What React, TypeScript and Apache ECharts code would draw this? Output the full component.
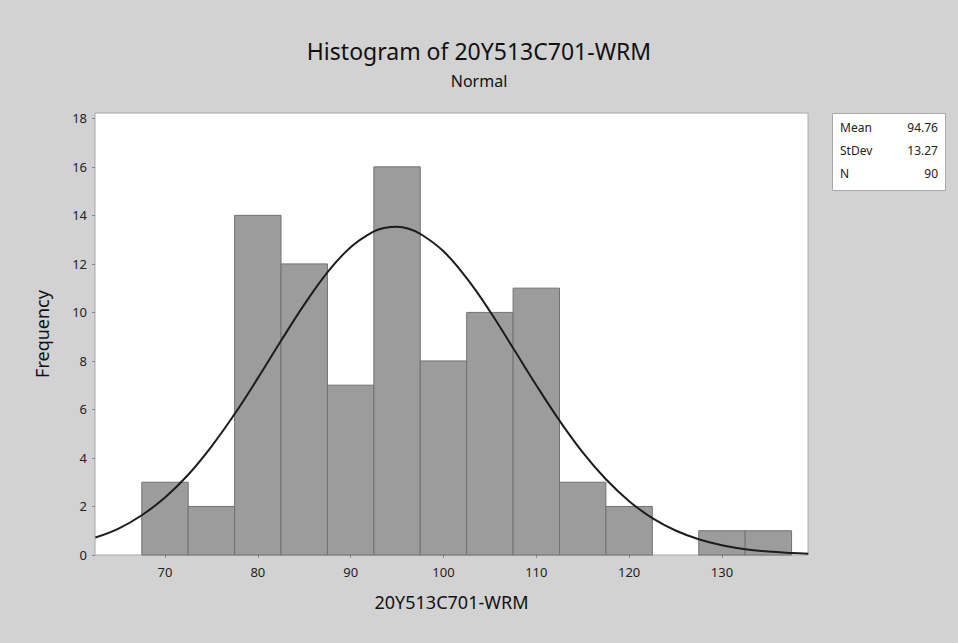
import React, { useEffect, useRef } from "react";
import * as echarts from "echarts";

// Histogram bins (midpoints) and frequencies
const BIN_MIDPOINTS = [70, 75, 80, 85, 90, 95, 100, 105, 110, 115, 120, 125, 130, 135];
const FREQUENCIES = [3, 2, 14, 12, 7, 16, 8, 10, 11, 3, 2, 0, 1, 1];
const BIN_WIDTH = 5;

// Fitted normal curve
const CURVE_X = [62.5, 65, 67.5, 70, 72.5, 75, 77.5, 80, 82.5, 85, 87.5, 90, 92.5, 93.75, 95, 96.25, 97.5, 100, 102.5, 105, 107.5, 110, 112.5, 115, 117.5, 120, 122.5, 125, 127.5, 130, 132.5, 135, 137.5, 139.3];
const CURVE_Y = [0.72, 1.09, 1.64, 2.37, 3.31, 4.47, 5.81, 7.29, 8.83, 10.32, 11.65, 12.69, 13.34, 13.49, 13.53, 13.45, 13.24, 12.52, 11.41, 10.05, 8.53, 7.0, 5.54, 4.23, 3.12, 2.22, 1.52, 1.01, 0.65, 0.4, 0.24, 0.14, 0.08, 0.05];

const X_TICKS = [70, 80, 90, 100, 110, 120, 130];
const Y_TICKS = [0, 2, 4, 6, 8, 10, 12, 14, 16, 18];

const STATS_LABELS = ["Mean", "StDev", "N"];
const STATS_VALUES = ["94.76", "13.27", "90"];

const TITLE = "Histogram of 20Y513C701-WRM";
const SUBTITLE = "Normal";
const X_NAME = "20Y513C701-WRM";
const Y_NAME = "Frequency";

const FONT = "'Noto Sans', 'Open Sans', sans-serif";

export default function App() {
  const ref = useRef<HTMLDivElement>(null);

  useEffect(() => {
    if (!ref.current) return;
    const chart = echarts.init(ref.current, undefined, { renderer: "svg" });

    const barData = BIN_MIDPOINTS.map((m, i) => [m, FREQUENCIES[i]]).filter((d) => d[1] > 0);
    const curveData = CURVE_X.map((x, i) => [x, CURVE_Y[i]]);

    const statsGraphics: any[] = [
      {
        type: "rect",
        left: 832,
        top: 113,
        shape: { width: 113, height: 77 },
        style: { fill: "#ffffff", stroke: "#a8a8a8", lineWidth: 1 },
      },
    ];
    STATS_LABELS.forEach((lab, i) => {
      statsGraphics.push({
        type: "text",
        x: 840,
        y: 127 + i * 23,
        style: {
          text: lab,
          font: `12px ${FONT}`,
          fill: "#222",
          textAlign: "left",
          textVerticalAlign: "middle",
        },
      });
      statsGraphics.push({
        type: "text",
        x: 938,
        y: 127 + i * 23,
        style: {
          text: STATS_VALUES[i],
          font: `12px ${FONT}`,
          fill: "#222",
          textAlign: "right",
          textVerticalAlign: "middle",
        },
      });
    });

    chart.setOption({
      animation: false,
      backgroundColor: "#d2d2d2",
      title: [
        {
          text: TITLE,
          left: "center",
          top: 34,
          textStyle: { fontFamily: FONT, fontSize: 23, fontWeight: "normal", color: "#111" },
        },
        {
          text: SUBTITLE,
          left: "center",
          top: 68,
          textStyle: { fontFamily: FONT, fontSize: 16, fontWeight: "normal", color: "#111" },
        },
      ],
      grid: {
        left: 95,
        right: 150,
        top: 113,
        bottom: 88,
        show: true,
        backgroundColor: "#ffffff",
        borderColor: "#a8a8a8",
        borderWidth: 1,
      },
      xAxis: {
        type: "value",
        min: 62.46,
        max: 139.27,
        name: X_NAME,
        nameLocation: "middle",
        nameGap: 38,
        nameTextStyle: { fontFamily: FONT, fontSize: 18, color: "#111" },
        axisLine: { show: false },
        splitLine: { show: false },
        axisTick: {
          show: true,
          length: 3,
          customValues: X_TICKS,
          lineStyle: { color: "#888" },
        },
        axisLabel: {
          customValues: X_TICKS,
          fontFamily: FONT,
          fontSize: 13,
          color: "#222",
          margin: 10,
        },
      },
      yAxis: {
        type: "value",
        min: 0,
        max: 18.22,
        name: Y_NAME,
        nameLocation: "middle",
        nameGap: 44,
        nameRotate: 90,
        nameTextStyle: { fontFamily: FONT, fontSize: 18, color: "#111" },
        axisLine: { show: false },
        splitLine: { show: false },
        axisTick: {
          show: true,
          length: 3,
          customValues: Y_TICKS,
          lineStyle: { color: "#888" },
        },
        axisLabel: {
          customValues: Y_TICKS,
          fontFamily: FONT,
          fontSize: 13,
          color: "#222",
          margin: 8,
        },
      },
      series: [
        {
          type: "custom",
          data: barData,
          renderItem: (params: any, api: any) => {
            const x = api.value(0);
            const y = api.value(1);
            const p0 = api.coord([x - BIN_WIDTH / 2, y]);
            const p1 = api.coord([x + BIN_WIDTH / 2, 0]);
            return {
              type: "rect",
              shape: { x: p0[0], y: p0[1], width: p1[0] - p0[0], height: p1[1] - p0[1] },
              style: { fill: "#9c9c9c", stroke: "#727272", lineWidth: 1 },
            };
          },
          z: 2,
        },
        {
          type: "line",
          data: curveData,
          smooth: 0.4,
          showSymbol: false,
          symbol: "none",
          lineStyle: { color: "#1c1c1c", width: 2 },
          z: 3,
        },
      ],
      graphic: statsGraphics,
    });

    return () => chart.dispose();
  }, []);

  return (
    <div
      ref={ref}
      style={{ position: "fixed", left: 0, top: 0, width: 958, height: 643 }}
    />
  );
}
